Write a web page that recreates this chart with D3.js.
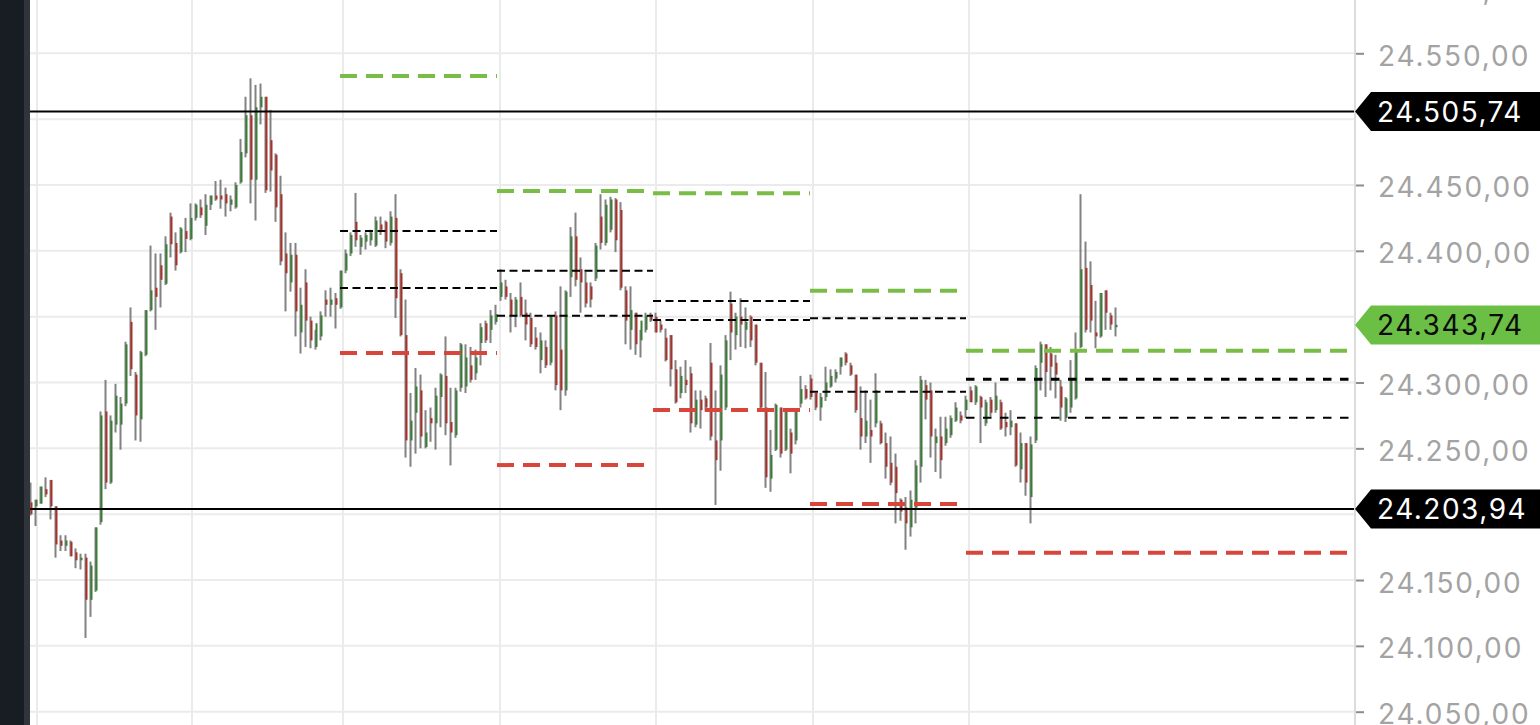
<!DOCTYPE html>
<html><head><meta charset="utf-8">
<script src="https://cdn.jsdelivr.net/npm/d3@7/dist/d3.min.js"></script>
<style>html,body{margin:0;padding:0;background:#fff;overflow:hidden}</style>
</head><body>
<svg id="chart" width="1540" height="725"></svg>
<script>
// ---- data ----
const opens  = [24209,24206,24208,24219,24226,24206,24180,24176,24179,24171,24165,24167,24135,24142,24194,24278,24224,24268,24268,24284,24346,24306,24272,24321,24355,24372,24389,24375,24426,24406,24399,24415,24409,24425,24433,24419,24435,24442,24442,24443,24435,24433,24452,24474,24503,24454,24509,24517,24484,24473,24443,24398,24376,24397,24338,24376,24347,24327,24335,24363,24359,24364,24357,24385,24398,24422,24403,24407,24408,24404,24420,24422,24406,24425,24383,24336,24256,24277,24294,24251,24273,24269,24289,24305,24270,24260,24296,24297,24313,24307,24330,24345,24340,24346,24365,24373,24363,24351,24365,24353,24349,24334,24317,24327,24315,24351,24325,24294,24380,24411,24386,24376,24373,24379,24426,24406,24416,24439,24431,24370,24340,24353,24332,24340,24350,24350,24344,24334,24336,24310,24292,24302,24307,24268,24287,24288,24315,24256,24256,24281,24360,24336,24350,24340,24350,24344,24315,24281,24227,24249,24281,24249,24262,24256,24284,24295,24303,24292,24281,24289,24297,24303,24312,24322,24313,24306,24273,24259,24264,24269,24269,24254,24239,24236,24211,24205,24190,24205,24236,24298,24294,24254,24259,24254,24260,24271,24275,24279,24294,24285,24289,24269,24287,24279,24285,24270,24266,24269,24234,24254,24213,24256,24315,24329,24322,24315,24297,24273,24281,24288,24327,24387,24374,24338,24335,24370,24351,24342];
const highs  = [24224,24211,24221,24228,24226,24206,24184,24184,24180,24174,24170,24170,24164,24190,24278,24302,24275,24299,24289,24331,24357,24308,24324,24355,24404,24398,24398,24411,24429,24414,24418,24425,24436,24436,24439,24443,24442,24453,24454,24448,24442,24452,24485,24517,24531,24526,24527,24517,24507,24474,24457,24414,24406,24406,24372,24386,24350,24340,24354,24370,24372,24368,24385,24401,24414,24444,24412,24414,24416,24426,24426,24423,24430,24443,24386,24363,24292,24311,24306,24279,24281,24296,24307,24335,24296,24296,24330,24329,24327,24325,24345,24347,24355,24359,24386,24378,24368,24365,24376,24363,24353,24342,24338,24332,24351,24354,24373,24370,24418,24429,24395,24384,24376,24406,24443,24439,24441,24440,24437,24373,24373,24353,24340,24353,24353,24353,24347,24341,24336,24317,24312,24317,24312,24294,24294,24290,24330,24294,24313,24336,24369,24353,24364,24357,24351,24344,24315,24308,24264,24284,24281,24279,24265,24279,24305,24298,24306,24292,24292,24312,24310,24310,24319,24323,24315,24306,24297,24294,24287,24307,24271,24262,24259,24246,24212,24213,24218,24241,24305,24302,24300,24265,24274,24274,24275,24285,24278,24290,24297,24298,24290,24287,24289,24300,24287,24277,24279,24269,24262,24254,24259,24313,24331,24329,24327,24321,24302,24289,24317,24338,24443,24407,24392,24362,24368,24370,24353,24357];
const lows   = [24199,24191,24208,24213,24196,24167,24172,24172,24168,24159,24158,24106,24122,24141,24192,24219,24223,24262,24249,24282,24305,24256,24255,24320,24354,24340,24357,24374,24395,24385,24398,24399,24408,24423,24425,24412,24431,24438,24432,24426,24430,24432,24451,24471,24436,24423,24496,24444,24445,24422,24389,24354,24369,24335,24322,24327,24326,24325,24332,24350,24350,24341,24356,24383,24396,24403,24397,24401,24404,24403,24412,24402,24404,24349,24335,24243,24236,24246,24250,24250,24255,24249,24266,24260,24237,24258,24293,24292,24300,24302,24313,24330,24330,24344,24362,24363,24338,24342,24350,24332,24327,24325,24307,24311,24313,24294,24279,24290,24365,24373,24353,24357,24357,24377,24401,24404,24414,24399,24370,24329,24325,24321,24319,24338,24346,24338,24338,24316,24297,24284,24288,24292,24262,24266,24265,24278,24256,24207,24233,24279,24317,24325,24327,24326,24327,24313,24279,24220,24217,24248,24243,24248,24231,24253,24281,24287,24287,24279,24271,24286,24296,24300,24306,24313,24305,24277,24249,24254,24239,24266,24253,24227,24222,24193,24195,24173,24183,24193,24224,24272,24243,24232,24227,24252,24258,24270,24269,24273,24285,24283,24254,24267,24274,24277,24264,24259,24260,24236,24224,24214,24193,24254,24294,24289,24294,24288,24271,24270,24277,24287,24326,24338,24338,24326,24334,24340,24340,24335];
const closes = [24200,24211,24221,24215,24206,24177,24176,24180,24168,24165,24167,24135,24161,24190,24275,24224,24271,24290,24284,24329,24310,24275,24323,24355,24370,24365,24378,24405,24405,24389,24417,24409,24425,24435,24427,24435,24442,24439,24439,24436,24439,24450,24475,24503,24454,24509,24517,24446,24461,24433,24392,24383,24397,24354,24359,24347,24332,24345,24351,24359,24363,24359,24385,24398,24412,24408,24410,24412,24414,24423,24416,24407,24426,24364,24336,24256,24271,24297,24259,24262,24269,24290,24306,24269,24262,24294,24329,24319,24302,24319,24342,24332,24351,24352,24376,24365,24351,24363,24351,24344,24329,24327,24332,24313,24351,24298,24294,24369,24411,24378,24376,24360,24363,24404,24406,24435,24439,24408,24372,24347,24355,24329,24347,24351,24347,24338,24340,24317,24310,24285,24305,24298,24269,24287,24279,24281,24259,24241,24306,24332,24338,24350,24344,24346,24332,24315,24281,24228,24245,24283,24246,24278,24246,24278,24295,24288,24289,24281,24289,24300,24305,24308,24319,24315,24306,24279,24259,24271,24259,24294,24254,24236,24224,24216,24202,24193,24211,24237,24302,24287,24259,24259,24241,24265,24273,24281,24271,24287,24285,24297,24281,24285,24277,24290,24265,24266,24271,24237,24254,24224,24253,24311,24329,24308,24312,24306,24281,24288,24302,24325,24386,24340,24347,24335,24368,24353,24344,24343.74];

const yTicks = [24050,24100,24150,24200,24250,24300,24350,24400,24450,24500,24550,24600];
const labelTicks = [24050,24100,24150,24250,24300,24400,24450,24550,24600];
// session separators, in candle-index units
const sessionBreaks = [1.2, 32.2, 62.4, 93.8, 125, 156.4, 187.6];
// daily levels for sessions starting at sessionBreaks[2..6]
const levelGreen  = [24532.8, 24445.4, 24443.7, 24369.7, 24324.1];
const levelBlackA = [24415.1, 24384.9, 24361.9, 24348.8, 24302.4];
const levelBlackB = [24371.8, 24350.7, 24347.5, 24293.0, 24273.3];
const levelRed    = [24322.4, 24237.3, 24279.1, 24207.7, 24170.7];
const keyLevels = [24505.74, 24203.94];
const lastPrice = 24343.74;

// ---- layout ----
const W = 1540, H = 725;
const plotL = 30, plotR = 1355;
const svg = d3.select("#chart");
const x = d3.scaleLinear().domain([0, opens.length - 1]).range([31, 1116]);
const y = d3.scaleLinear().domain([24050, 24550]).range([711.7, 53.3]);
const loc = d3.formatLocale({decimal: ",", thousands: ".", grouping: [3], currency: ["", ""]});
const fmt = loc.format(",.2f");
const FONT = "Inter, 'Liberation Sans', Arial, sans-serif";

svg.append("rect").attr("width", W).attr("height", H).attr("fill", "#ffffff");
svg.append("defs").append("clipPath").attr("id", "plot")
  .append("rect").attr("x", plotL).attr("y", 0).attr("width", plotR - plotL).attr("height", H);

// grid
const grid = svg.append("g").attr("clip-path", "url(#plot)");
grid.selectAll("line.h").data(yTicks).join("line")
  .attr("x1", plotL).attr("x2", plotR)
  .attr("y1", d => y(d)).attr("y2", d => y(d))
  .attr("stroke", "#ebebeb").attr("stroke-width", 2);
grid.selectAll("line.v").data(sessionBreaks).join("line")
  .attr("x1", d => x(d)).attr("x2", d => x(d))
  .attr("y1", 0).attr("y2", H)
  .attr("stroke", "#ebebeb").attr("stroke-width", 2);

// candles
const idx = d3.range(opens.length);
const cg = svg.append("g").attr("clip-path", "url(#plot)");
cg.selectAll("rect.w").data(idx).join("rect")
  .attr("x", i => x(i) - 1.5).attr("width", 2)
  .attr("y", i => y(highs[i])).attr("height", i => Math.max(1, y(lows[i]) - y(highs[i])))
  .attr("fill", "#828282");
cg.selectAll("rect.b").data(idx).join("rect")
  .attr("x", i => x(i) - 0.5).attr("width", 2)
  .attr("y", i => y(Math.max(opens[i], closes[i])))
  .attr("height", i => Math.max(1.2, Math.abs(y(opens[i]) - y(closes[i]))))
  .attr("fill", i => closes[i] >= opens[i] ? "#3b7d36" : "#a8322b");

// level lines per session
const lg = svg.append("g").attr("clip-path", "url(#plot)");
const sessions = d3.range(levelGreen.length).map(j => {
  const s = sessionBreaks[j + 2];
  const e = j + 3 < sessionBreaks.length ? sessionBreaks[j + 3] : 270;
  return {j, s: s - 0.6, e: e - 0.6, last: j === levelGreen.length - 1};
});
function levelLines(arr, color, width, dashFn) {
  lg.selectAll(null).data(sessions).join("line")
    .attr("x1", d => x(d.s)).attr("x2", d => x(d.e))
    .attr("y1", d => y(arr[d.j])).attr("y2", d => y(arr[d.j]))
    .attr("stroke", color)
    .attr("stroke-width", d => typeof width === "function" ? width(d) : width)
    .attr("stroke-dasharray", dashFn);
}
levelLines(levelGreen, "#79bd47", 4, () => "17,9");
levelLines(levelRed, "#d8463b", 4, () => "17,9");
levelLines(levelBlackA, "#000000", d => d.last ? 3 : 2, d => d.last ? "8.5,8.5" : "8,4.5");
levelLines(levelBlackB, "#000000", 2, d => d.last ? "8.5,8.5" : "8,4.5");

// key horizontal levels
lg.selectAll("line.k").data(keyLevels).join("line")
  .attr("x1", plotL).attr("x2", plotR)
  .attr("y1", d => y(d)).attr("y2", d => y(d))
  .attr("stroke", "#000").attr("stroke-width", 2);

// left dark strip
svg.append("rect").attr("x", 0).attr("y", 0).attr("width", 24).attr("height", H).attr("fill", "#181d24");
svg.append("rect").attr("x", 24).attr("y", 0).attr("width", 6).attr("height", H).attr("fill", "#30353b");

// axis separator
svg.append("line").attr("x1", plotR).attr("x2", plotR).attr("y1", 0).attr("y2", H)
  .attr("stroke", "#dcdcdc").attr("stroke-width", 2);

// y axis
const axis = d3.axisRight(y).tickValues(labelTicks).tickSize(8).tickPadding(14).tickFormat(fmt);
const ag = svg.append("g").attr("transform", `translate(${plotR + 1},0)`).call(axis);
ag.select(".domain").remove();
ag.selectAll(".tick line").attr("stroke", "#8c8c8c").attr("stroke-width", 2);
ag.selectAll(".tick text")
  .attr("fill", "#a3a3a3").attr("dy", null).attr("dominant-baseline", "auto")
  .attr("transform", "translate(0,12)")
  .style("font-family", FONT).style("font-size", "28px").style("letter-spacing", "1.9px");

// price tags
function tag(value, fill, textFill) {
  const c = y(value);
  const g = svg.append("g");
  g.append("path")
    .attr("d", `M${plotR},${c} L${plotR + 16},${c - 19.5} L${W},${c - 19.5} L${W},${c + 19.5} L${plotR + 16},${c + 19.5} Z`)
    .attr("fill", fill);
  g.append("text").attr("x", 1377).attr("y", c + 10.5)
    .attr("fill", textFill)
    .style("font-family", FONT).style("font-size", "28px").style("letter-spacing", "1.5px")
    .text(fmt(value));
}
tag(keyLevels[0], "#000000", "#ffffff");
tag(keyLevels[1], "#000000", "#ffffff");
tag(lastPrice, "#6cbf45", "#0a0a0a");
</script>
</body></html>
